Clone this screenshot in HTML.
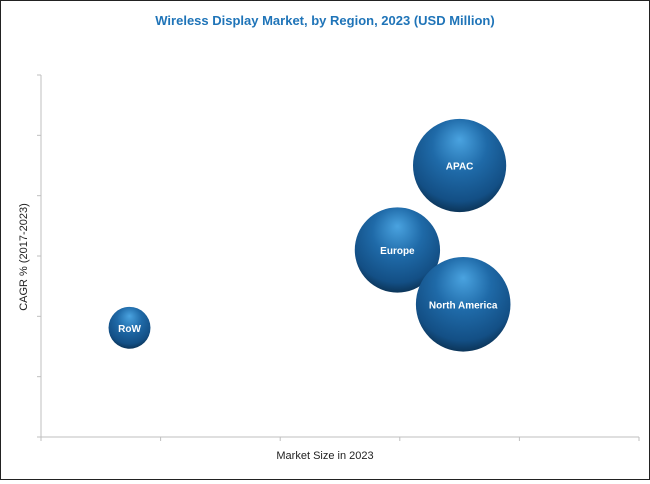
<!DOCTYPE html>
<html><head><meta charset="utf-8"><style>
body{margin:0;background:#fff}
#wrap{position:relative;width:648px;height:478px;border:1px solid #222;background:#fff;font-family:"Liberation Sans",sans-serif}
</style></head><body>
<div id="wrap">
<svg id="chart" width="648" height="478">
<defs>
<radialGradient id="ball" cx="0.5" cy="0.35" r="0.65" fx="0.5" fy="0.22">
<stop offset="0" stop-color="#4aa3e0"/>
<stop offset="0.45" stop-color="#1f6aa8"/>
<stop offset="0.85" stop-color="#134f85"/>
<stop offset="1" stop-color="#0c3559"/>
</radialGradient>
</defs>
<text x="324" y="24" text-anchor="middle" font-size="13" font-weight="bold" fill="#1f74b8">Wireless Display Market, by Region, 2023 (USD Million)</text>
<text x="324" y="458" text-anchor="middle" font-size="11" fill="#222">Market Size in 2023</text>
<text transform="translate(26,256) rotate(-90)" text-anchor="middle" font-size="11" fill="#222">CAGR % (2017-2023)</text>
<g id="axes"></g>
<g id="bubbles"></g>
</svg>
</div>
<script>
const regions = ["RoW","Europe","APAC","North America"];
const marketSize = [0.74, 2.98, 3.5, 3.53];
const cagr = [1.81, 3.1, 4.5, 2.2];
const bubbleSize = [0.9, 1.83, 2.0, 2.03];
const xTicks = [0,1,2,3,4,5];
const yTicks = [0,1,2,3,4,5,6];

const X0=40, X1=638, Y0=436, Y1=74;
const xs = v => X0 + v/5*(X1-X0);
const ys = v => Y0 - v/6*(Y0-Y1);
const rs = v => v*23.3;
const NS="http://www.w3.org/2000/svg";
const axes=document.getElementById('axes');
function el(tag,attrs,parent){const e=document.createElementNS(NS,tag);for(const k in attrs)e.setAttribute(k,attrs[k]);parent.appendChild(e);return e;}
let a=el('line',{x1:X0,y1:Y1,x2:X0,y2:Y0,stroke:'#bfbfbf','stroke-width':1},axes);


a=el('line',{x1:X0,y1:Y0,x2:X1,y2:Y0,stroke:'#bfbfbf','stroke-width':1},axes);


yTicks.forEach(t=>{const l=el('line',{x1:X0-4,y1:ys(t),x2:X0,y2:ys(t),stroke:'#bfbfbf'},axes);

});
xTicks.forEach(t=>{const l=el('line',{x1:xs(t),y1:Y0,x2:xs(t),y2:Y0+4,stroke:'#bfbfbf'},axes);

});
const bg=document.getElementById('bubbles');
regions.forEach((r,i)=>{
 const g=el('g',{},bg);
 
 
 el('circle',{cx:xs(marketSize[i]),cy:ys(cagr[i]),r:rs(bubbleSize[i]),fill:'url(#ball)'},g);
 const t=el('text',{x:xs(marketSize[i]),y:ys(cagr[i])+4,'text-anchor':'middle','font-size':10,'font-weight':'bold',fill:'#fff'},g);
 t.textContent=r;
 
 
});
</script>
</body></html>
